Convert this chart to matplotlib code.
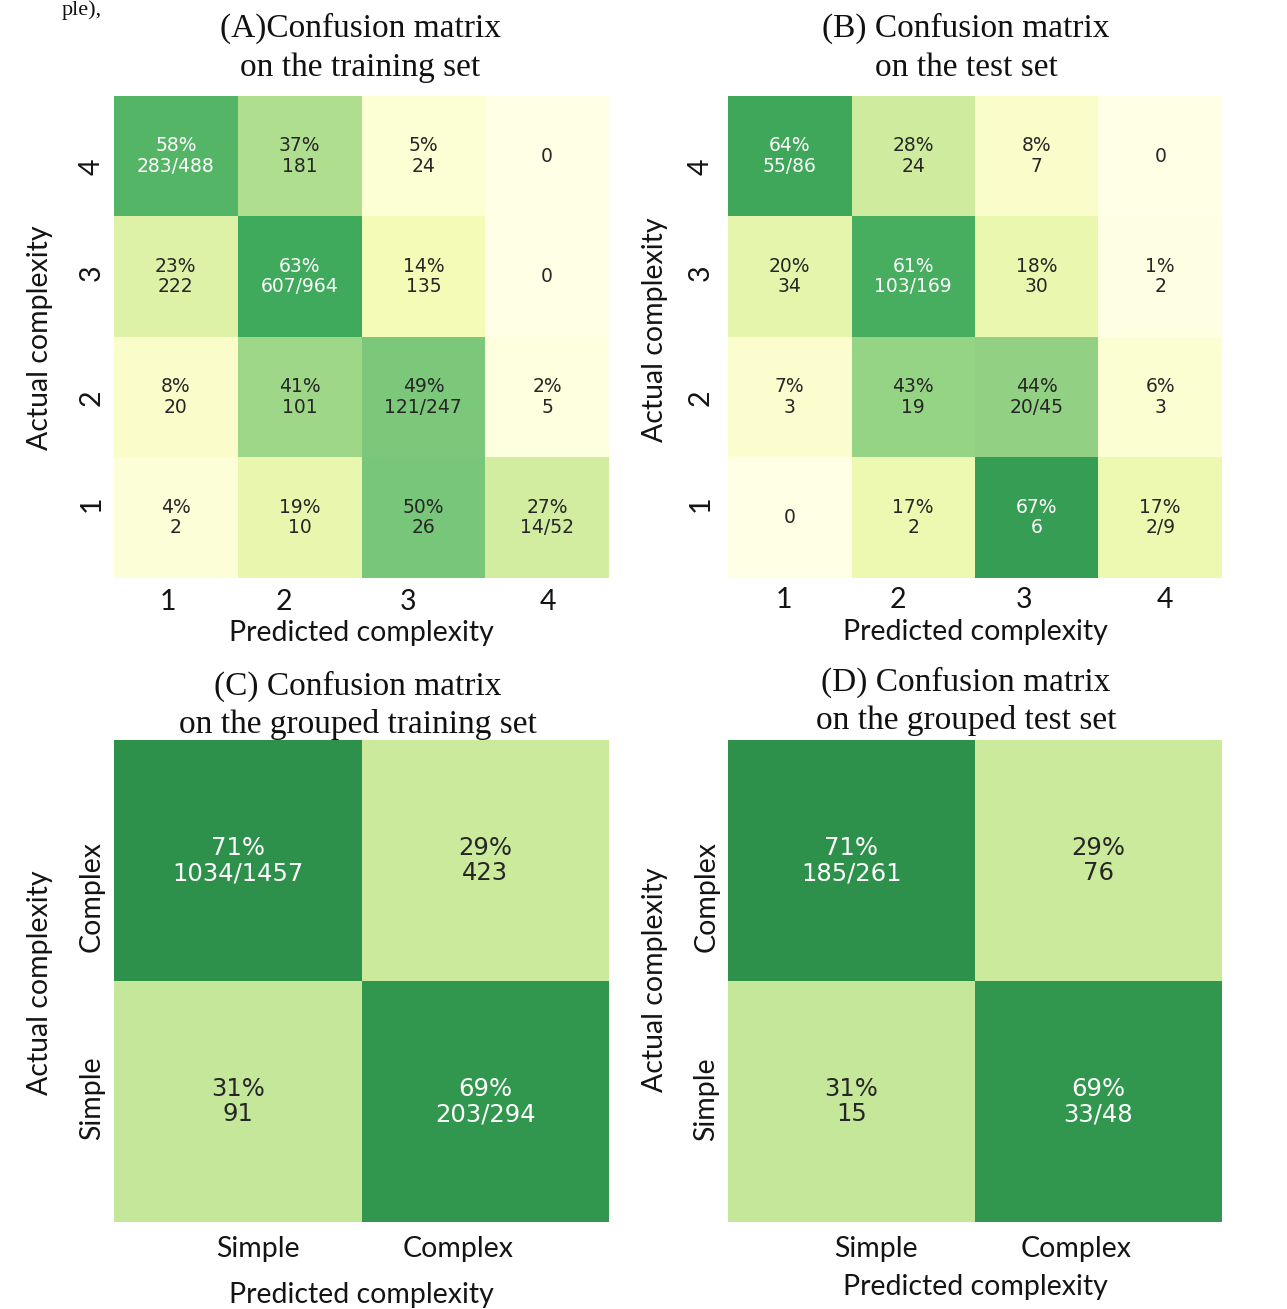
import numpy as np
import matplotlib
matplotlib.use("Agg")
import matplotlib.pyplot as plt
import seaborn as sns

# ---- data -------------------------------------------------------------
# Rows are actual classes from top to bottom, columns are predicted classes.
fine_rows = ["4", "3", "2", "1"]
fine_cols = ["1", "2", "3", "4"]

train_pct = [[58, 37, 5, 0],
             [23, 63, 14, 0],
             [8, 41, 49, 2],
             [4, 19, 50, 27]]
train_cnt = [["283/488", "181", "24", "0"],
             ["222", "607/964", "135", "0"],
             ["20", "101", "121/247", "5"],
             ["2", "10", "26", "14/52"]]

test_pct = [[64, 28, 8, 0],
            [20, 61, 18, 1],
            [7, 43, 44, 6],
            [0, 17, 67, 17]]
test_cnt = [["55/86", "24", "7", "0"],
            ["34", "103/169", "30", "2"],
            ["3", "19", "20/45", "3"],
            ["0", "2", "6", "2/9"]]

grp_rows = ["Complex", "Simple"]
grp_cols = ["Simple", "Complex"]

grp_train_pct = [[71, 29],
                 [31, 69]]
grp_train_cnt = [["1034/1457", "423"],
                 ["91", "203/294"]]

grp_test_pct = [[71, 29],
                [31, 69]]
grp_test_cnt = [["185/261", "76"],
                ["15", "33/48"]]

# ---- figure -------------------------------------------------------------
W, H = 1287, 1309
fig = plt.figure(figsize=(W / 100, H / 100), dpi=100)

SERIF = "Liberation Serif"
SANS = "Lato"
SANS_SIZE = 20.5
INK = "#141414"


def px_axes(left, top, right, bottom):
    return fig.add_axes([left / W, 1 - bottom / H, (right - left) / W, (bottom - top) / H])


def cell_labels(pct, cnt):
    out = []
    for prow, crow in zip(pct, cnt):
        line = []
        for p, c in zip(prow, crow):
            line.append("0" if p == 0 and c == "0" else f"{p}%\n{c}")
        out.append(line)
    return np.array(out)


def panel(box, pct, cnt, rows, cols, annot_size, titles, title_x, title_y,
          xlabel_y, ylabel_x, ylabel_y, ytick_pad, xtick_pad, xtick_at, ytick_at):
    ax = px_axes(*box)
    left, top, right, bottom = box
    vals = np.array(pct, dtype=float) / 100.0
    sns.heatmap(vals, annot=cell_labels(pct, cnt), fmt="", cmap="YlGn",
                vmin=0, vmax=1, cbar=False, ax=ax,
                annot_kws={"size": annot_size, "family": "DejaVu Sans",
                           "linespacing": 1.1})
    # category labels sit slightly inward from the cell centres
    ax.set_xticks(xtick_at)
    ax.set_xticklabels(cols, fontfamily=SANS, fontsize=SANS_SIZE, color=INK,
                       rotation=0)
    ax.set_yticks(ytick_at)
    ax.set_yticklabels(rows, fontfamily=SANS, fontsize=SANS_SIZE, color=INK,
                       rotation=90, va="center")
    ax.tick_params(axis="both", length=0)
    ax.tick_params(axis="x", pad=xtick_pad)
    ax.tick_params(axis="y", pad=ytick_pad)

    ax.set_xlabel("Predicted complexity", fontfamily=SANS, fontsize=SANS_SIZE,
                  color=INK, va="center")
    ax.xaxis.set_label_coords(0.5, (bottom - xlabel_y) / (bottom - top))
    ax.set_ylabel("Actual complexity", fontfamily=SANS, fontsize=SANS_SIZE,
                  color=INK, va="center")
    ax.yaxis.set_label_coords((ylabel_x - left) / (right - left),
                              (bottom - ylabel_y) / (bottom - top))

    for text, ty in zip(titles, title_y):
        fig.text(title_x / W, 1 - ty / H, text, ha="center", va="center",
                 fontfamily=SERIF, fontsize=24, color="#111111")
    return ax


panel((114, 96, 609, 578), train_pct, train_cnt, fine_rows, fine_cols, 13.5,
      ["(A)Confusion matrix", "on the training set"], 360, (28, 68),
      633, 40, 338, 6.5, 7.8,
      [0.44, 1.37, 2.38, 3.51], [0.59, 1.47, 2.50, 3.38])

panel((728, 96, 1222, 578), test_pct, test_cnt, fine_rows, fine_cols, 13.5,
      ["(B) Confusion matrix", "on the test set"], 966, (28, 68),
      632, 655, 330, 10.5, 6.8,
      [0.45, 1.38, 2.40, 3.54], [0.59, 1.47, 2.50, 3.38])

panel((114, 740, 609, 1222), grp_train_pct, grp_train_cnt, grp_rows, grp_cols, 17.5,
      ["(C) Confusion matrix", "on the grouped training set"], 358, (686, 724),
      1295, 40, 983, 6.7, 10,
      [0.58, 1.39], [0.65, 1.485])

panel((728, 740, 1222, 1222), grp_test_pct, grp_test_cnt, grp_rows, grp_cols, 17.5,
      ["(D) Confusion matrix", "on the grouped test set"], 966, (682, 720),
      1287, 655, 980, 6.2, 10,
      [0.60, 1.41], [0.65, 1.49])

# tail of the preceding caption line
fig.text(62 / W, 1 - 15 / H, "ple),", ha="left", va="baseline",
         fontfamily=SERIF, fontsize=16, color="#111111")

fig.savefig("out.png", dpi=100)
